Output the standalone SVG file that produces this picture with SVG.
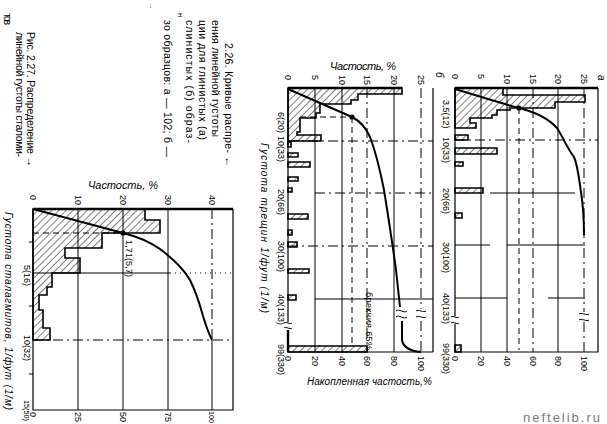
<svg xmlns="http://www.w3.org/2000/svg" width="607" height="424" viewBox="0 0 607 424">
<defs>
<pattern id="hatch" patternUnits="userSpaceOnUse" width="5" height="5" patternTransform="rotate(45)"><line x1="0" y1="0" x2="0" y2="5" stroke="#000" stroke-width="1"/></pattern>
</defs>
<style>
text{font-family:"Liberation Sans","DejaVu Sans",sans-serif;fill:#000}
.cap{font-size:10.5px}
.tk{font-size:9px}
.sm{font-size:8px}
.ax{font-size:10px;font-style:italic}
.fr{fill:none;stroke:#000;stroke-width:1.2}
.tf{fill:none;stroke:#000;stroke-width:2.4}
.g{stroke:#000;stroke-width:1;fill:none}
.ds{stroke-dasharray:6 4}
.dd{stroke-dasharray:10 4 2 4}
.dt{stroke-dasharray:1 4}
.h{fill:url(#hatch);stroke:#000;stroke-width:1.6}
.cv{fill:none;stroke:#000;stroke-width:2}
.bk{fill:none;stroke:#000;stroke-width:1}
.wm{font-size:13px;fill:#7a7a7a}
</style>
<rect x="0" y="0" width="607" height="424" fill="#fff"/>

<g id="captions">
<text class="cap" transform="translate(225,43) rotate(90)" textLength="124" lengthAdjust="spacing">2.26. Кривые распре- ←</text>
<text class="cap" transform="translate(212,20) rotate(90)" textLength="117" lengthAdjust="spacing">ения линейной густоты</text>
<text class="cap" transform="translate(199,20) rotate(90)" textLength="120" lengthAdjust="spacing">ции для глинистых (а)</text>
<text class="cap" transform="translate(186,20) rotate(90)" textLength="123" lengthAdjust="spacing">слинистых (б) образ-</text>
<text class="cap" transform="translate(178,13) rotate(90)" style="font-size:8px">н</text>
<text class="cap" transform="translate(164,20) rotate(90)" textLength="137" lengthAdjust="spacing">зо образцов: а — 102; б —</text>
<text class="cap" transform="translate(150,4) rotate(90)" style="font-size:8px">..</text>
<text class="cap" transform="translate(27,32) rotate(90)" textLength="135" lengthAdjust="spacing">Рис. 2.27. Распределение →</text>
<text class="cap" transform="translate(16,32) rotate(90)" textLength="125" lengthAdjust="spacing">линейной густоты сталоми-</text>
<text class="cap" transform="translate(4,13) rotate(90)" textLength="12" lengthAdjust="spacing">тов</text>
</g>

<g id="fig227">
<g id="fig227-grid">
<line class="g" x1="78" y1="209" x2="78" y2="410"/>
<line class="g" x1="123" y1="209" x2="123" y2="410"/>
<line class="g" x1="168" y1="209" x2="168" y2="410"/>
<line class="g dd" x1="212" y1="209" x2="212" y2="340"/>
<line class="g" x1="212" y1="340" x2="212" y2="410"/>
<line class="g" x1="33" y1="273" x2="170" y2="273"/>
<line class="g dt" x1="170" y1="273" x2="233" y2="273"/>
<line class="g dd" x1="33" y1="340" x2="233" y2="340"/>
<line class="g ds" x1="33" y1="233" x2="123" y2="233"/>
<path class="g" d="M29,242H33M29,306H33M29,374H33"/>
</g>
<path class="h" d="M33,209H145V220H160V233H102V248H65V258H80V273H52V287H47V295H39V310H43V328H50V340H33Z"/>
<path class="fr" d="M33,209V410H233V209"/>
<line class="tf" x1="33" y1="209" x2="233" y2="209"/>
<path class="cv" d="M33,209L123,233C135,236 150,242 160,249C172,258 183,268 190,280C196,292 200,305 203,316C206,326 209,334 212,340"/>
<circle cx="123" cy="233" r="2.6" fill="#000"/>
<text class="tk" transform="translate(126,240) rotate(90)" textLength="37" lengthAdjust="spacing">1,71(5,7)</text>
<text class="tk" transform="translate(30,195) rotate(90)">0</text>
<text class="tk" transform="translate(75,195) rotate(90)">10</text>
<text class="tk" transform="translate(120,195) rotate(90)">20</text>
<text class="tk" transform="translate(165,195) rotate(90)">30</text>
<text class="tk" transform="translate(209,195) rotate(90)">40</text>
<text class="tk" transform="translate(30,412) rotate(90)">0</text>
<text class="tk" transform="translate(75,412) rotate(90)">25</text>
<text class="tk" transform="translate(120,412) rotate(90)">50</text>
<text class="tk" transform="translate(165,412) rotate(90)">75</text>
<text class="sm" transform="translate(209,411) rotate(90)" textLength="12" lengthAdjust="spacingAndGlyphs">100</text>
<text class="tk" transform="translate(24,265) rotate(90)">5(16)</text>
<text class="tk" transform="translate(24,335) rotate(90)">10(32)</text>
<text class="sm" transform="translate(24,400) rotate(90)" textLength="21" lengthAdjust="spacingAndGlyphs">15(50)</text>
<text class="ax" transform="translate(5,212) rotate(90)" textLength="198" lengthAdjust="spacing">Густота сталагмитов, 1/фут (1/м)</text>
<text class="ax" x="88" y="189" style="font-size:11px" textLength="70" lengthAdjust="spacing">Частость, %</text>
</g>

<g id="fig226b">
<g id="fig226b-grid">
<line class="g" x1="315" y1="88" x2="315" y2="352"/>
<line class="g" x1="342" y1="88" x2="342" y2="352"/>
<line class="g dd" x1="367" y1="88" x2="367" y2="352"/>
<line class="g" x1="394" y1="88" x2="394" y2="352"/>
<line class="g dd" x1="421" y1="88" x2="421" y2="309"/>
<line class="g dd" x1="421" y1="321" x2="421" y2="352"/>
<line class="g dd" x1="288" y1="141" x2="433" y2="141"/>
<line class="g dd" x1="315" y1="193" x2="433" y2="193"/>
<line class="g dd" x1="288" y1="246" x2="433" y2="246"/>
<line class="g" x1="315" y1="299" x2="433" y2="299"/>
<line class="g ds" x1="300" y1="117" x2="352" y2="117"/>
<line class="g ds" x1="352" y1="117" x2="352" y2="345"/>
</g>
<path class="h" d="M288,88H402V94H358V100H351V104H320V113H316V118H300V132H297V135H321V141H288Z"/>
<path class="h" d="M288,142H291V147H288ZM288,153H298V157H288ZM288,162H310V167H288ZM288,177H298V181H288ZM288,188H292V192H288ZM288,214H308V219H288ZM288,230H292V235H288ZM288,242H297V247H288ZM288,269H309V273H288ZM288,295H296V300H288ZM288,346H367V352H288Z"/>
<path class="fr" d="M288,88V322M433,88V352M288,352H433"/>
<line class="tf" x1="288" y1="330" x2="288" y2="352"/>
<line class="tf" x1="288" y1="88" x2="402" y2="88"/>
<path class="bk" d="M284,323c2,-2 6,2 8,0M284,328c2,-2 6,2 8,0"/>
<path class="cv" d="M288,89L352,117C360,121 366,128 370,137C375,150 380,170 384,190C388,215 392,240 396,270L400,307M402,321L402,340C403,347 410,351 421,352"/>
<path class="bk" d="M396,311c3,-3 8,3 11,0M396,317c3,-3 8,3 11,0M416,311c2,-2 8,2 10,0M416,317c2,-2 8,2 10,0"/>
<circle cx="352" cy="117" r="2.6" fill="#000"/>
<text class="tk" transform="translate(285,75) rotate(90)">0</text>
<text class="tk" transform="translate(312,75) rotate(90)">5</text>
<text class="tk" transform="translate(339,75) rotate(90)">10</text>
<text class="tk" transform="translate(364,75) rotate(90)">15</text>
<text class="tk" transform="translate(391,75) rotate(90)">20</text>
<text class="tk" transform="translate(418,75) rotate(90)">25</text>
<text class="tk" transform="translate(285,356) rotate(90)">0</text>
<text class="tk" transform="translate(312,356) rotate(90)">20</text>
<text class="tk" transform="translate(339,356) rotate(90)">40</text>
<text class="tk" transform="translate(364,356) rotate(90)">60</text>
<text class="tk" transform="translate(391,356) rotate(90)">80</text>
<text class="tk" transform="translate(418,356) rotate(90)">100</text>
<text class="tk" transform="translate(278,112) rotate(90)">6(20)</text>
<text class="tk" transform="translate(278,136) rotate(90)">10(33)</text>
<text class="tk" transform="translate(278,189) rotate(90)">20(66)</text>
<text class="tk" transform="translate(278,241) rotate(90)">30(100)</text>
<text class="tk" transform="translate(278,294) rotate(90)">40(133)</text>
<text class="tk" transform="translate(278,344) rotate(90)">99(330)</text>
<text class="tk" transform="translate(366,292) rotate(90)" textLength="58" lengthAdjust="spacing">брекчия 65%</text>
<text class="ax" transform="translate(261,143) rotate(90)" textLength="170" lengthAdjust="spacing">Густота трещин 1/фут (1/м)</text>
<text class="ax" x="330" y="70" style="font-size:11px" textLength="66" lengthAdjust="spacing">Частость, %</text>
<text class="ax" x="307" y="385" textLength="125" lengthAdjust="spacing">Накопленная частость,%</text>
<text class="ax" transform="translate(436,72) rotate(90)">б</text>
</g>

<g id="fig226a">
<g id="fig226a-grid">
<line class="g" x1="481" y1="88" x2="481" y2="352"/>
<line class="g" x1="507" y1="88" x2="507" y2="352"/>
<line class="g dd" x1="533" y1="88" x2="533" y2="352"/>
<line class="g" x1="558" y1="88" x2="558" y2="352"/>
<line class="g dd" x1="584" y1="88" x2="584" y2="312"/>
<line class="g dd" x1="584" y1="322" x2="584" y2="352"/>
<line class="g dd" x1="455" y1="140" x2="598" y2="140"/>
<line class="g" x1="490" y1="193" x2="575" y2="193"/>
<path class="g" d="M455,245H490M507,245H585M455,298H507M548,298H585"/>
<line class="g ds" x1="519" y1="108" x2="519" y2="350"/>
</g>
<path class="h" d="M455,88H503V95H585V102H555V108H510V110H497V115H492V118H470V123H476V128H455Z"/>
<path class="h" d="M455,135H468V140H455ZM455,148H497V154H455ZM455,162H463V166H455ZM455,188H483V193H455ZM455,213H462V218H455ZM455,345H461V352H455Z"/>
<path class="fr" d="M455,88V316M455,324V352H598V88"/>
<line class="tf" x1="455" y1="88" x2="598" y2="88"/>
<path class="bk" d="M451,317c2,-2 6,2 8,0M451,323c2,-2 6,2 8,0M579,314c2,-2 8,2 10,0M579,320c2,-2 8,2 10,0"/>
<path class="cv" d="M455,89C475,95 500,103 519,108C535,112 548,118 557,128C563,137 567,148 574,157C578,166 579,180 581,192C583,205 584,215 584,235"/>
<circle cx="519" cy="108" r="2.6" fill="#000"/>
<text class="tk" transform="translate(452,74) rotate(90)">0</text>
<text class="tk" transform="translate(478,74) rotate(90)">5</text>
<text class="tk" transform="translate(504,74) rotate(90)">10</text>
<text class="tk" transform="translate(530,74) rotate(90)">15</text>
<text class="tk" transform="translate(555,74) rotate(90)">20</text>
<text class="tk" transform="translate(581,74) rotate(90)">25</text>
<text class="tk" transform="translate(452,356) rotate(90)">0</text>
<text class="tk" transform="translate(478,356) rotate(90)">20</text>
<text class="tk" transform="translate(504,356) rotate(90)">40</text>
<text class="tk" transform="translate(530,356) rotate(90)">60</text>
<text class="tk" transform="translate(555,356) rotate(90)">80</text>
<text class="tk" transform="translate(581,356) rotate(90)">100</text>
<text class="tk" transform="translate(443,100) rotate(90)">3,5(12)</text>
<text class="tk" transform="translate(443,137) rotate(90)">10(33)</text>
<text class="tk" transform="translate(443,188) rotate(90)">20(66)</text>
<text class="tk" transform="translate(443,242) rotate(90)">30(100)</text>
<text class="tk" transform="translate(443,293) rotate(90)">40(133)</text>
<text class="tk" transform="translate(443,343) rotate(90)">99(330)</text>
<text class="ax" transform="translate(598,75) rotate(90)">а</text>
</g>

<text class="wm" x="523" y="422" textLength="77" lengthAdjust="spacing">neftelib.ru</text>
</svg>
